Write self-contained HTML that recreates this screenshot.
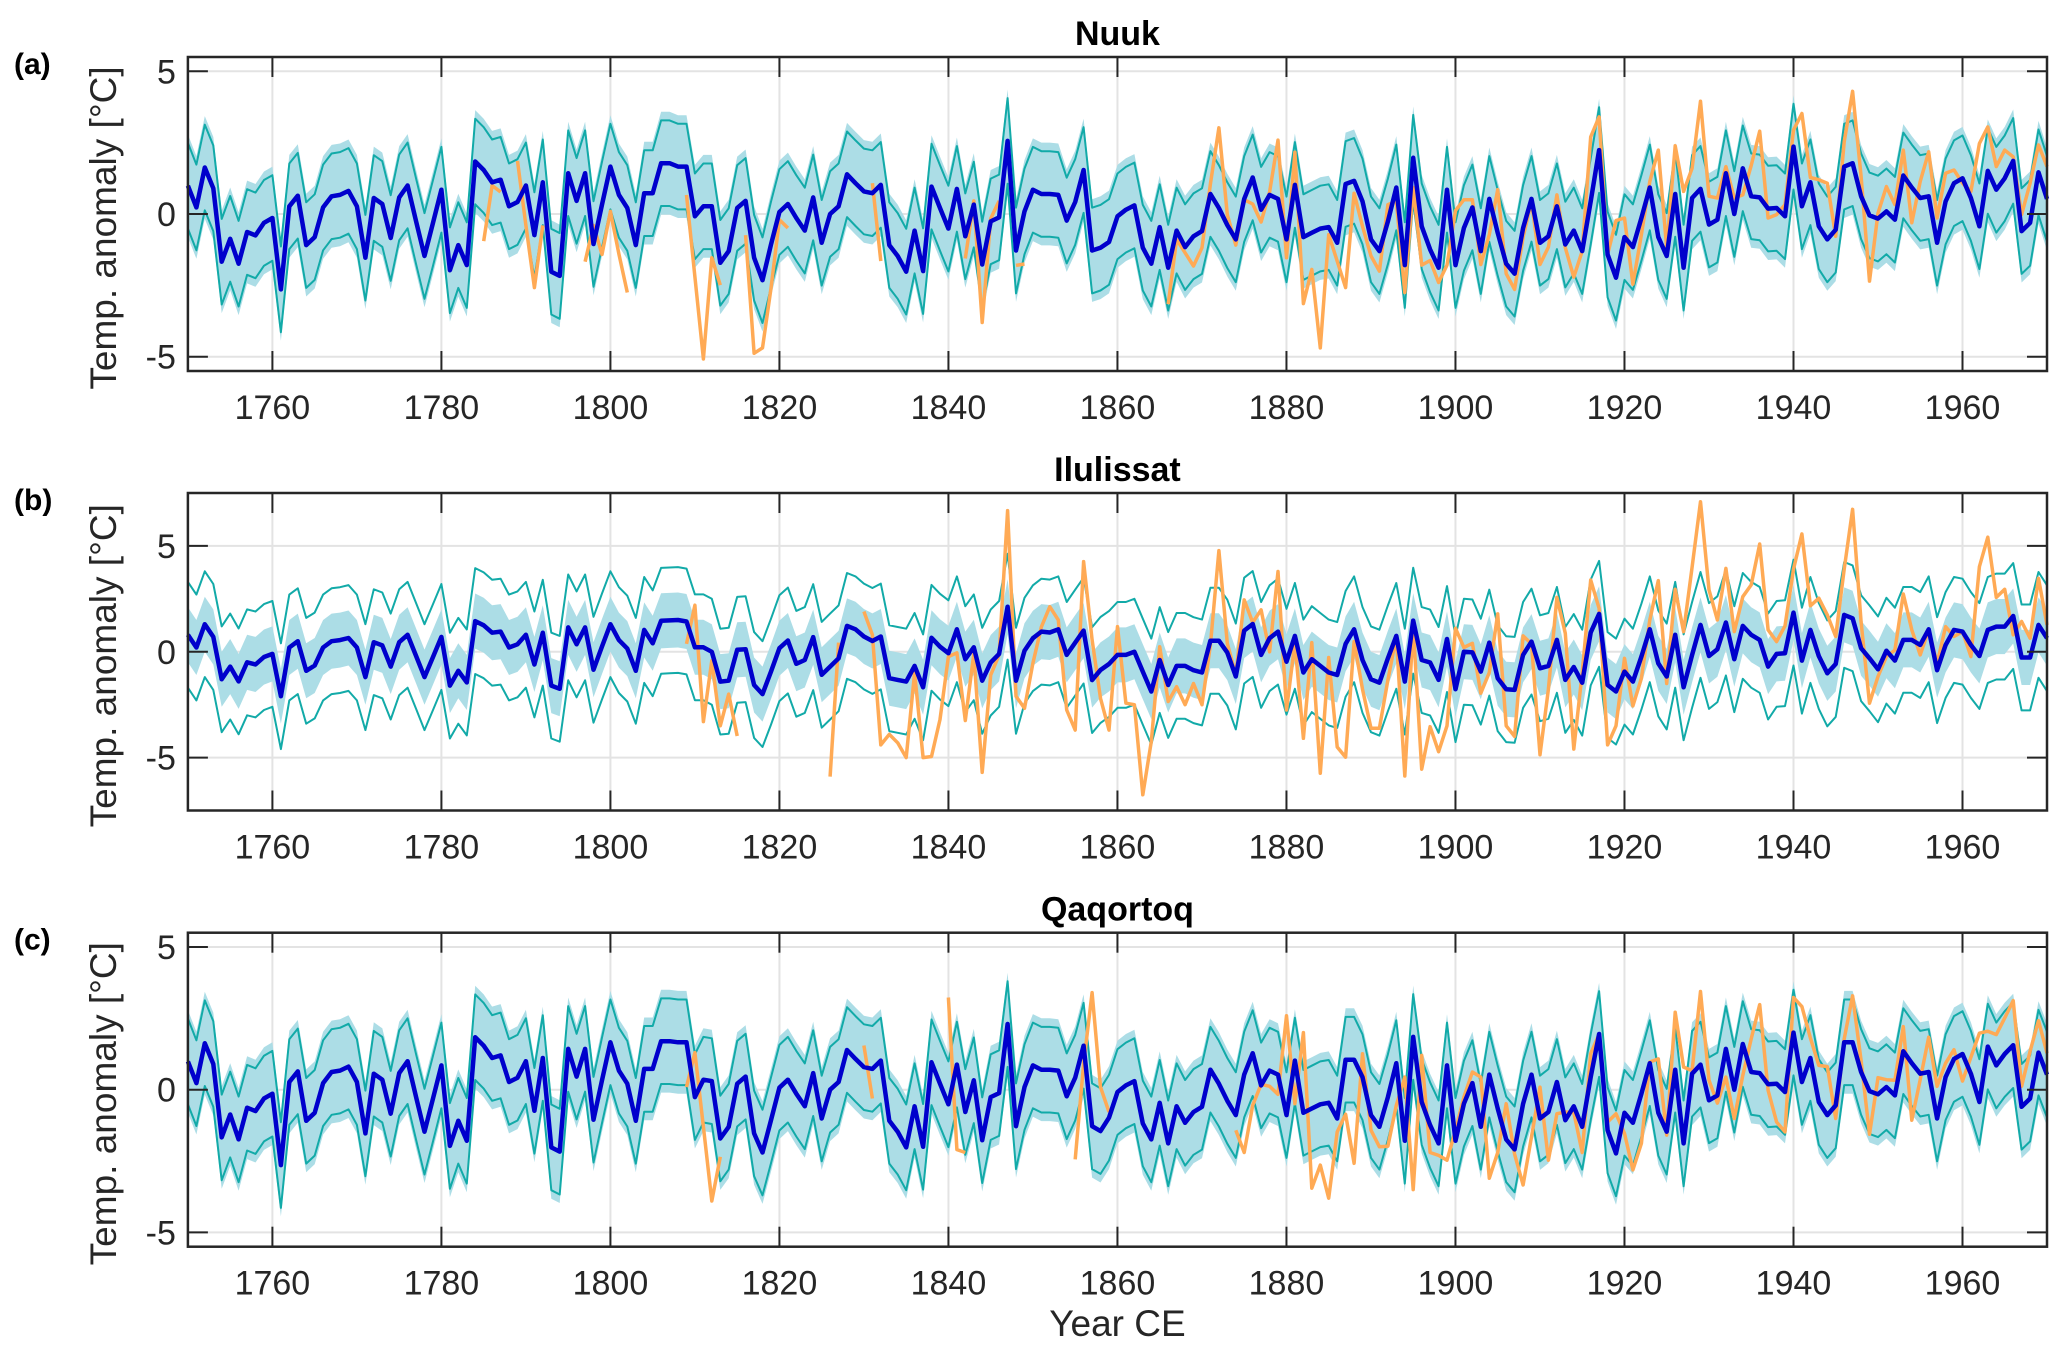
<!DOCTYPE html>
<html><head><meta charset="utf-8"><style>
html,body{margin:0;padding:0;background:#fff;}
svg{display:block;font-family:"Liberation Sans",Arial,sans-serif;}
</style></head><body>
<svg id="chart" width="2067" height="1357" viewBox="0 0 2067 1357" xmlns="http://www.w3.org/2000/svg"></svg>
<script>
const years0 = 1750, years1 = 1970;
const xTicks = [1760,1780,1800,1820,1840,1860,1880,1900,1920,1940,1960];
const yTicks = [-5,0,5];
const panelTitles = ["Nuuk","Ilulissat","Qaqortoq"];
const panelLetters = ["(a)","(b)","(c)"];
const shadeHalf = [1.8,1.3,1.8];
const ciHalf = [1.5,2.5,1.5];

const meanA = [0.99,0.23,1.63,0.9,-1.67,-0.87,-1.74,-0.63,-0.75,-0.31,
-0.14,-2.64,0.27,0.64,-1.09,-0.81,0.23,0.62,0.67,0.81,
0.27,-1.53,0.56,0.35,-0.84,0.58,1.0,-0.26,-1.47,-0.31,
0.85,-1.97,-1.09,-1.79,1.84,1.54,1.11,1.2,0.27,0.42,
1.0,-0.74,1.11,-2.02,-2.17,1.43,0.46,1.43,-1.05,0.33,
1.66,0.67,0.21,-1.09,0.73,0.73,1.78,1.78,1.66,1.66,
-0.08,0.27,0.27,-1.71,-1.3,0.21,0.46,-1.53,-2.32,-1.07,
0.07,0.35,-0.14,-0.58,0.58,-1.01,0,0.27,1.39,1.08,
0.79,0.73,1.02,-1.09,-1.47,-2.02,-0.58,-2.0,0.96,0.21,
-0.51,0.88,-0.78,0.33,-1.77,-0.26,-0.12,2.56,-1.28,0.09,
0.85,0.7,0.7,0.67,-0.23,0.42,1.54,-1.28,-1.18,-0.98,
-0.08,0.15,0.3,-1.18,-1.74,-0.46,-1.88,-0.58,-1.16,-0.78,
-0.6,0.7,0.21,-0.39,-0.89,0.53,1.28,0.15,0.67,0.53,
-0.89,1.02,-0.81,-0.66,-0.51,-0.46,-1.01,1.05,1.16,0.44,
-0.89,-1.3,-0.26,0.93,-1.79,1.97,-0.43,-1.24,-1.88,0.85,
-1.79,-0.49,0.23,-1.3,0.53,-0.66,-1.74,-2.09,-0.49,0.53,
-1.01,-0.78,0.27,-1.07,-0.58,-1.3,0.44,2.24,-1.42,-2.23,
-0.81,-1.16,-0.14,0.93,-0.81,-1.47,0.7,-1.88,0.56,0.88,
-0.37,-0.2,1.43,0,1.6,0.62,0.58,0.19,0.21,-0.08,
2.36,0.27,1.11,-0.43,-0.89,-0.55,1.66,1.78,0.62,-0.05,
-0.16,0.09,-0.2,1.35,0.93,0.56,0.62,-1.01,0.44,1.08,
1.25,0.56,-0.43,1.51,0.85,1.25,1.86,-0.6,-0.31,1.46,
0.53];

const meanB = [0.8,0.2,1.3,0.7,-1.3,-0.7,-1.4,-0.5,-0.6,-0.25,
-0.1,-2.1,0.2,0.5,-0.9,-0.65,0.2,0.5,0.55,0.65,
0.2,-1.2,0.45,0.3,-0.7,0.45,0.8,-0.2,-1.2,-0.25,
0.7,-1.6,-0.9,-1.45,1.45,1.25,0.9,0.95,0.2,0.35,
0.8,-0.6,0.9,-1.6,-1.75,1.15,0.35,1.15,-0.85,0.25,
1.3,0.55,0.15,-0.9,1.03,0.4,1.46,1.48,1.5,1.43,
0.21,0.21,0,-1.41,-1.37,0.09,0.12,-1.57,-2.0,-0.94,
0.17,0.53,-0.57,-0.39,0.69,-1.09,-0.7,-0.31,1.22,1.06,
0.72,0.51,0.72,-1.25,-1.33,-1.41,-0.67,-1.68,0.66,0.24,
-0.07,1.06,-0.35,0.21,-1.37,-0.51,-0.1,2.13,-1.37,0.05,
0.64,0.95,0.91,1.06,-0.15,0.43,1.0,-1.34,-0.86,-0.58,
-0.15,-0.15,0,-0.94,-1.88,-0.39,-1.57,-0.67,-0.67,-0.87,
-0.98,0.52,0.52,-0.04,-1.17,1.0,1.31,-0.15,0.64,0.95,
-0.47,0.75,-0.98,-0.35,-0.67,-0.98,-1.1,0.37,1.06,-0.39,
-1.3,-1.46,-0.31,0.75,-1.41,1.47,-0.39,-0.51,-1.33,0.6,
-1.77,0,-0.03,-0.94,0.43,-1.25,-1.77,-1.8,-0.15,0.48,
-0.78,-0.67,0.56,-1.33,-0.72,-1.46,0.91,1.79,-1.57,-1.88,
-0.94,-1.41,-0.23,1.06,-0.55,-1.17,0.8,-1.68,-0.15,1.27,
-0.2,0.12,1.38,-0.35,1.22,0.8,0.56,-0.7,-0.1,-0.07,
1.85,-0.42,1.03,-0.2,-1.02,-0.58,1.74,1.58,0.17,-0.31,
-0.83,0.05,-0.42,0.56,0.56,0.32,1.06,-0.87,0.32,1.03,
0.95,0.32,-0.2,1.03,1.19,1.19,1.69,-0.27,-0.27,1.27,
0.64];

const meanC = [0.99,0.23,1.63,0.9,-1.67,-0.87,-1.74,-0.63,-0.75,-0.31,
-0.14,-2.64,0.27,0.64,-1.09,-0.81,0.23,0.62,0.67,0.81,
0.27,-1.53,0.56,0.35,-0.84,0.58,1.0,-0.26,-1.47,-0.31,
0.85,-1.97,-1.09,-1.79,1.84,1.54,1.11,1.2,0.27,0.42,
1.0,-0.74,1.11,-2.02,-2.17,1.43,0.46,1.43,-1.05,0.33,
1.66,0.67,0.21,-1.09,0.73,0.73,1.7,1.7,1.66,1.66,
-0.26,0.35,0.3,-1.71,-1.3,0.21,0.46,-1.53,-2.2,-1.07,
0.07,0.35,-0.14,-0.58,0.58,-1.01,0,0.27,1.39,1.08,
0.79,0.73,1.02,-1.09,-1.47,-2.02,-0.58,-2.0,0.96,0.21,
-0.51,0.88,-0.78,0.33,-1.77,-0.26,-0.12,2.3,-1.28,0.09,
0.85,0.7,0.7,0.67,-0.23,0.42,1.54,-1.28,-1.45,-0.98,
-0.08,0.15,0.3,-1.18,-1.74,-0.46,-1.88,-0.58,-1.16,-0.78,
-0.6,0.7,0.21,-0.39,-0.89,0.53,1.28,0.15,0.67,0.53,
-0.89,1.02,-0.81,-0.66,-0.51,-0.46,-1.01,1.05,1.05,0.44,
-0.89,-1.3,-0.26,0.93,-1.79,1.85,-0.43,-1.24,-1.88,0.85,
-1.79,-0.49,0.23,-1.3,0.53,-0.66,-1.74,-2.09,-0.49,0.53,
-1.01,-0.78,0.27,-1.07,-0.58,-1.3,0.44,1.95,-1.42,-2.23,
-0.81,-1.16,-0.14,0.93,-0.81,-1.47,0.7,-1.88,0.56,0.88,
-0.37,-0.2,1.43,0,1.6,0.62,0.58,0.19,0.21,-0.08,
2.0,0.27,1.11,-0.43,-0.89,-0.55,1.66,1.66,0.62,-0.05,
-0.16,0.09,-0.2,1.35,0.93,0.56,0.62,-1.01,0.44,1.08,
1.25,0.56,-0.43,1.51,0.85,1.25,1.56,-0.6,-0.31,1.3,
0.53];

const obsAYears = [1785,1786,1787,1789,1790,1791,1792,1797,1798,1799,1800,1801,1802,1809,1810,1811,1812,1813,1816,1817,1818,1819,1820,1821,1831,1832,1842,1843,1844,1845,1846,1848,1849,
1866,1867,1868,1869,1870,1871,1872,1873,1874,1875,1876,1877,1878,1879,1880,1881,1882,1883,1884,1885,1886,1887,1888,1889,1890,1891,1892,1893,1894,1895,1896,1897,1898,1899,1900,1901,1902,1903,1904,1905,1906,1907,1908,1909,1910,1911,1912,1913,1914,1915,
1916,1917,1918,1919,1920,1921,1922,1923,1924,1925,1926,1927,1928,1929,1930,1931,1932,1933,1934,1935,1936,1937,1938,1939,1940,1941,1942,1943,1944,1945,1946,1947,1948,1949,1950,1951,1952,1953,1954,1955,1956,1957,1958,1959,1960,1961,1962,1963,1964,1965,1966,1967,1968,1969,1970];
const obsAValues = [-0.95,1.0,0.77,1.86,-0.4,-2.58,-0.4,-1.67,-0.4,-1.42,0.09,-1.4,-2.75,0.67,-2.2,-5.08,-1.53,-2.49,-0.74,-4.88,-4.69,-2.6,-0.2,-0.49,1.08,-1.65,-1.56,0.46,-3.8,-0.16,0.46,-1.8,-1.75,
-3.16,-0.89,-1.36,-1.82,-1.18,1.05,3.02,-0.02,-1.09,0.5,0.35,-0.28,0.77,2.59,-1.53,2.16,-3.14,-1.94,-4.69,-0.72,-1.65,-2.58,0.73,-0.43,-1.47,-2.0,0.33,0.44,-2.75,0.93,-1.79,-1.63,-2.4,-1.79,0.12,0.5,0.5,-1.77,-0.72,0.85,-2.09,-2.64,-0.81,0.44,-1.77,-1.16,0.67,-1.18,-2.21,-1.3,
2.7,3.4,-1.42,-0.23,-0.14,-2.46,-0.72,1.14,2.24,-1.18,2.39,0.79,1.6,3.95,0.62,0.56,1.66,0.56,0.67,1.7,2.9,-0.14,-0.02,0.33,2.94,3.52,1.28,1.2,1.08,-0.78,2.53,4.3,1.31,-2.35,0.03,0.96,0.33,2.24,-0.31,1.14,2.18,-0.14,1.43,1.54,1.08,0.79,2.47,3.05,1.66,2.24,2.0,-0.02,1.08,2.42,1.66];

const obsBYears = [1809,1810,1811,1812,1813,1814,1815,1826,1827,
1830,1831,1832,1833,1834,1835,1836,1837,1838,1839,1840,1841,1842,1843,1844,1845,1846,1847,1848,1849,1850,1851,1852,1853,1854,1855,1856,1857,1858,1859,
1860,1861,1862,1863,1864,1865,1866,1867,1868,1869,1870,1871,1872,1873,1874,1875,1876,1877,1878,1879,1880,1881,1882,1883,1884,1885,1886,1887,1888,1889,1890,1891,1892,1893,1894,1895,1896,1897,1898,1899,1900,1901,1902,1903,1904,1905,1906,1907,1908,1909,1910,1911,1912,1913,1914,
1915,1916,1917,1918,1919,1920,1921,1922,1923,1924,1925,1926,1927,1928,1929,1930,1931,1932,1933,1934,1935,1936,1937,1938,1939,1940,1941,1942,1943,1944,1945,1946,1947,1948,1949,1950,1951,1952,1953,1954,1955,1956,1957,1958,1959,1960,1961,1962,1963,1964,1965,1966,1967,1968,1969,1970];
const obsBValues = [0.37,2.2,-3.3,-0.42,-3.5,-2.0,-3.98,-5.9,0.43,
1.9,0.8,-4.4,-3.9,-4.3,-5.0,-1.0,-5.0,-4.95,-3.2,-0.23,-0.05,-3.25,-0.1,-5.7,-1.1,-0.15,6.67,-2.1,-2.67,-0.54,1.18,2.13,1.5,-2.75,-3.7,4.26,0.56,-2.2,-3.7,
1.19,-2.43,-2.5,-6.76,-4.24,0.24,-2.35,-1.65,-2.5,-1.5,-2.5,0.32,4.78,0.4,-1.1,2.45,1.38,1.98,0,3.79,-2.75,0.43,-4.09,0.43,-5.74,-0.27,-4.5,-4.98,0.48,-1.77,-3.61,-3.61,-1.33,0.72,-5.87,1.19,-5.55,-3.54,-4.72,-3.5,1.11,0.2,0.4,-1.96,-0.98,1.79,-3.5,-4.0,0.75,0.37,-4.87,-1.77,2.57,0.87,-4.6,
-1.0,3.39,2.05,-4.4,-3.5,-0.31,-2.56,-1.25,1.5,3.36,-1.5,2.95,0.95,4.0,7.09,2.92,1.5,3.94,0.95,2.6,3.16,5.09,1.03,0.48,1.22,3.9,5.57,2.17,2.53,1.74,0.72,3.9,6.73,1.4,-2.43,-1.17,-0.23,0.08,2.73,1.03,-0.15,1.03,-0.55,1.19,0.72,0.95,-0.23,4.02,5.41,2.57,2.95,0.8,1.43,0.64,3.47,1.27];

const obsCYears = [1809,1810,1811,1812,1813,1830,1831,1840,1841,1842,1855,1856,1857,1858,1859,
1874,1875,1876,1877,1878,1879,1880,1881,1882,1883,1884,1885,1886,1887,1888,1889,1890,1891,1892,1893,1894,1895,1896,1897,1898,1899,1900,1901,1902,1903,1904,1905,1906,1907,1908,1909,1910,1911,1912,1913,1914,1915,
1916,1917,1918,1919,1920,1921,1922,1923,1924,1925,1926,1927,1928,1929,1930,1931,1932,1933,1934,1935,1936,1937,1938,1939,1940,1941,1942,1943,1944,1945,1946,1947,1948,1949,1950,1951,1952,1953,1954,1955,1956,1957,1958,1959,1960,1961,1962,1963,1964,1965,1966,1967,1968,1969,1970];
const obsCValues = [0.09,1.3,-1.3,-3.9,-2.35,1.55,-0.31,3.23,-2.1,-2.2,-2.44,0.9,3.4,0.09,-0.78,
-1.42,-2.2,-0.55,0.19,0.12,-0.16,2.59,-0.49,2.0,-3.45,-2.64,-3.8,-1.48,-0.86,-2.58,1.26,-1.42,-2.0,-1.98,-0.55,0.44,-3.5,1.2,-2.2,-2.3,-2.47,-1.42,-0.26,0.62,0.44,-3.1,-2.2,-0.49,-2.26,-3.34,-1.65,0.09,-2.47,-0.84,-0.78,-0.8,-2.2,
1.26,1.95,-1.13,-0.84,-1.53,-2.81,-1.88,0.97,1.08,-1.59,2.71,0.79,0.67,3.44,0.33,-0.47,0.44,-1.01,0.5,1.78,2.98,-0.02,-1.13,-1.48,3.23,2.91,1.81,0.85,0.81,-1.01,1.78,3.29,1.02,-1.56,0.42,0.35,0.33,2.21,-1.07,0.35,1.84,0.12,0.93,1.4,0.3,1.14,1.98,2.05,1.93,2.51,3.12,0.12,1.35,2.42,1.28];

const panels = [
  {top:57, bottom:371, ymin:-5.5, ymax:5.5, mean:meanA, oy:obsAYears, ov:obsAValues},
  {top:493, bottom:810.5, ymin:-7.5, ymax:7.5, mean:meanB, oy:obsBYears, ov:obsBValues},
  {top:932.7, bottom:1246.7, ymin:-5.5, ymax:5.5, mean:meanC, oy:obsCYears, ov:obsCValues}
];
const L = 187.9, R = 2047;
const NS = "http://www.w3.org/2000/svg";
const svg = document.getElementById('chart');
function xs(yr){ return L + (yr - years0) / (years1 - years0) * (R - L); }
function mk(tag, attrs, parent){
  const e = document.createElementNS(NS, tag);
  for (const k in attrs) e.setAttribute(k, attrs[k]);
  (parent || svg).appendChild(e);
  return e;
}
function pathFrom(pts){ return pts.map((p,i)=>(i?'L':'M')+p[0].toFixed(1)+' '+p[1].toFixed(1)).join(''); }

panels.forEach((p, pi) => {
  const ys = v => p.top + (p.ymax - v) / (p.ymax - p.ymin) * (p.bottom - p.top);
  const g = mk('g', {});
  
  
  mk('rect', {x:L, y:p.top, width:R-L, height:p.bottom-p.top, fill:'#fff'}, g);
  xTicks.forEach(t => {
    const gl = mk('line', {x1:xs(t), x2:xs(t), y1:p.top, y2:p.bottom, stroke:'#e3e3e3', 'stroke-width':2}, g);
    
    
  });
  yTicks.forEach(t => {
    const gl = mk('line', {x1:L, x2:R, y1:ys(t), y2:ys(t), stroke:'#e3e3e3', 'stroke-width':2}, g);
    
    
  });
  const yrs = p.mean.map((_, i) => years0 + i);
  const up = yrs.map((yr, i) => [xs(yr), ys(p.mean[i] + shadeHalf[pi])]);
  const lo = yrs.map((yr, i) => [xs(yr), ys(p.mean[i] - shadeHalf[pi])]).reverse();
  const band = mk('path', {d: pathFrom(up.concat(lo)) + 'Z', fill:'#acdde6', stroke:'none'}, g);
  
  
  [1,-1].forEach(s => {
    const pts = yrs.map((yr, i) => [xs(yr), ys(p.mean[i] + s*ciHalf[pi])]);
    const ln = mk('path', {d: pathFrom(pts), fill:'none', stroke:'#12aaa8', 'stroke-width':2, 'stroke-linejoin':'round'}, g);
    
    
  });
  let seg = [];
  const segs = [];
  p.oy.forEach((yr, i) => {
    if (i > 0 && yr - p.oy[i-1] > 1) { segs.push(seg); seg = []; }
    seg.push([xs(yr), ys(p.ov[i])]);
  });
  segs.push(seg);
  segs.forEach(s => {
    const ol = mk('path', {d: pathFrom(s), fill:'none', stroke:'#ffaa55', 'stroke-width':3.5, 'stroke-linejoin':'round'}, g);
    
    
  });
  const mpts = yrs.map((yr, i) => [xs(yr), ys(p.mean[i])]);
  const ml = mk('path', {d: pathFrom(mpts), fill:'none', stroke:'#0000cc', 'stroke-width':4.5, 'stroke-linejoin':'round'}, g);
  
  
  xTicks.forEach(t => {
    mk('line', {x1:xs(t), x2:xs(t), y1:p.bottom, y2:p.bottom-20, stroke:'#262626', 'stroke-width':2}, g);
    mk('line', {x1:xs(t), x2:xs(t), y1:p.top, y2:p.top+20, stroke:'#262626', 'stroke-width':2}, g);
    const tl = mk('text', {x:xs(t), y:p.bottom+48, 'text-anchor':'middle', 'font-size':34, fill:'#262626'}, g);
    tl.textContent = t;
    
    
  });
  yTicks.forEach(t => {
    mk('line', {x1:L, x2:L+20, y1:ys(t), y2:ys(t), stroke:'#262626', 'stroke-width':2}, g);
    mk('line', {x1:R, x2:R-20, y1:ys(t), y2:ys(t), stroke:'#262626', 'stroke-width':2}, g);
    const tl = mk('text', {x:L-12, y:ys(t)+12, 'text-anchor':'end', 'font-size':34, fill:'#262626'}, g);
    tl.textContent = t;
    
    
  });
  const box = mk('rect', {x:L, y:p.top, width:R-L, height:p.bottom-p.top, fill:'none', stroke:'#262626', 'stroke-width':2.5}, g);
  
  
  const tt = mk('text', {x:(L+R)/2, y:p.top-12, 'text-anchor':'middle', 'font-size':34, 'font-weight':'bold', fill:'#000'}, g);
  tt.textContent = panelTitles[pi];
  
  
  const lt = mk('text', {x:14, y:p.top+17, 'font-size':30, 'font-weight':'bold', fill:'#000'}, g);
  lt.textContent = panelLetters[pi];
  
  
  const cy = (p.top + p.bottom) / 2 + 14;
  const yl = mk('text', {x:116, y:cy, 'text-anchor':'middle', 'font-size':37, fill:'#262626', transform:'rotate(-90 116 '+cy+')'}, g);
  yl.textContent = 'Temp. anomaly [\u00B0C]';
  
  
});
const xl = mk('text', {x:(L+R)/2, y:1336, 'text-anchor':'middle', 'font-size':37, fill:'#262626'});
xl.textContent = 'Year CE';


</script>
</body></html>
